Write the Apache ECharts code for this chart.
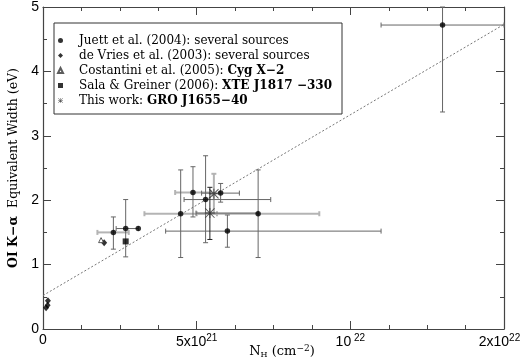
<!DOCTYPE html>
<html>
<head>
<meta charset="utf-8">
<script src="https://cdn.jsdelivr.net/npm/echarts@6/dist/echarts.min.js"></script>
<style>
  html, body { margin: 0; padding: 0; background: #fff; }
  #chart { width: 522px; height: 361px; }
</style>
</head>
<body>
<div id="chart"></div>
<script>
// N_H in units of 1e21 cm^-2 as drawn on the axis, EW in eV
const juettX = [2.29, 2.69, 3.10, 4.48, 4.88, 5.29, 5.78, 6.00, 7.00, 13.0];
const juettY = [1.50, 1.56, 1.56, 1.79, 2.12, 2.01, 2.11, 1.52, 1.79, 4.72];
const deVriesX = [0.16, 0.10, 0.15, 1.99];
const deVriesY = [0.44, 0.33, 0.37, 1.34];
const costantiniX = [1.89];
const costantiniY = [1.38];
const salaX = [2.69];
const salaY = [1.36];
const thisWorkX = [5.43, 5.56];
const thisWorkY = [1.80, 2.10];

// horizontal error bars: [y, xLow, xHigh]
const lightXErr = [[1.50, 1.77, 2.79], [1.79, 3.30, 5.66], [1.79, 5.0, 8.99], [2.12, 4.30, 5.46]];
const darkXErr = [[1.56, 2.38, 3.10], [1.80, 4.98, 7.0], [2.11, 5.16, 6.39], [2.01, 4.59, 7.41], [1.52, 3.99, 11.0], [4.72, 11.0, 15.0]];
// vertical error bars: [x, yLow, yHigh]
const lightYErr = [[5.56, 1.79, 2.41]];
const darkYErr = [[2.29, 1.24, 1.74], [2.69, 1.12, 2.01], [4.48, 1.11, 2.47], [4.88, 1.74, 2.52], [5.29, 1.34, 2.69],
  [5.78, 1.97, 2.26], [6.00, 1.27, 1.77], [7.00, 1.11, 2.47], [13.0, 3.37, 5.0]];
const blackYErr = [[5.43, 1.39, 2.20]];

// dashed fit line
const fitX = [0, 15];
const fitY = [0.52, 4.73];

const xTickText = { 0: "0", 5: "5x10{s|21}", 10: "10{s| 22}", 15: "2x10{e|22}" };

const names = [
  "Juett et al. (2004): several sources",
  "de Vries et al. (2003): several sources",
  "Costantini et al. (2005): Cyg X\u22122",
  "Sala & Greiner (2006): XTE J1817 \u2212330",
  "This work: GRO J1655\u221240",
];
const legendText = {
  [names[0]]: names[0],
  [names[1]]: names[1],
  [names[2]]: "Costantini et al. (2005): {b|Cyg X\u22122}",
  [names[3]]: "Sala & Greiner (2006): {b|XTE J1817 \u2212330}",
  [names[4]]: "This work: {b|GRO J1655\u221240}",
};

const zip = (xs, ys) => xs.map((x, i) => [x, ys[i]]);

const starPath =
  "path://M9 0H11V20H9Z M0 9H20V11H0Z M0 1.4L1.4 0L20 18.6L18.6 20Z M18.6 0L20 1.4L1.4 20L0 18.6Z";

function hErr(color, width) {
  return function (params, api) {
    const y = api.value(0);
    const a = api.coord([api.value(1), y]);
    const b = api.coord([api.value(2), y]);
    const c = 2.5;
    const style = { stroke: color, lineWidth: width };
    return {
      type: "group",
      children: [
        { type: "line", shape: { x1: a[0], y1: a[1], x2: b[0], y2: b[1] }, style },
        { type: "line", shape: { x1: a[0], y1: a[1] - c, x2: a[0], y2: a[1] + c }, style },
        { type: "line", shape: { x1: b[0], y1: b[1] - c, x2: b[0], y2: b[1] + c }, style },
      ],
    };
  };
}
function vErr(color, width) {
  return function (params, api) {
    const x = api.value(0);
    const a = api.coord([x, api.value(1)]);
    const b = api.coord([x, api.value(2)]);
    const c = 2.5;
    const style = { stroke: color, lineWidth: width };
    return {
      type: "group",
      children: [
        { type: "line", shape: { x1: a[0], y1: a[1], x2: b[0], y2: b[1] }, style },
        { type: "line", shape: { x1: a[0] - c, y1: a[1], x2: a[0] + c, y2: a[1] }, style },
        { type: "line", shape: { x1: b[0] - c, y1: b[1], x2: b[0] + c, y2: b[1] }, style },
      ],
    };
  };
}
const errSeries = (data, isH, color, width) => ({
  type: "custom",
  silent: true,
  z: 1,
  renderItem: isH ? hErr(color, width) : vErr(color, width),
  encode: isH ? { x: [1, 2], y: 0 } : { x: 0, y: [1, 2] },
  data,
});

const axisColor = "#444";
const tickCommon = {
  axisLine: { show: true, onZero: false, lineStyle: { color: axisColor, width: 1.2 } },
  axisTick: { show: true, inside: true, length: 8, lineStyle: { color: axisColor } },
  splitLine: { show: false },
  minorSplitLine: { show: false },
};
const serif = "DejaVu Serif";
const sans = "Liberation Sans";

const option = {
  animation: false,
  backgroundColor: "#fff",
  grid: { left: 43, right: 18, top: 7, bottom: 32, outerBoundsMode: "none" },
  legend: {
    orient: "vertical",
    left: 54,
    top: 23,
    padding: [10, 10, 6, 3],
    itemWidth: 5,
    itemHeight: 5,
    itemGap: 0,
    borderColor: "#333",
    borderWidth: 1,
    backgroundColor: "#fff",
    data: names,
    formatter: (n) => legendText[n],
    textStyle: {
      fontFamily: serif,
      fontSize: 12,
      color: "#000",
      lineHeight: 15,
      padding: [0, 0, 0, 11],
      rich: { b: { fontFamily: serif, fontSize: 12, fontWeight: "bold", color: "#000", lineHeight: 15 } },
    },
  },
  xAxis: [
    {
      type: "value",
      min: 0,
      max: 15,
      interval: 5,
      ...tickCommon,
      minorTick: { show: true, splitNumber: 4, length: 4, lineStyle: { color: axisColor } },
      axisLabel: {
        margin: 4,
        fontFamily: sans,
        fontSize: 14,
        color: "#000",
        formatter: (v) => xTickText[v],
        rich: {
          s: { fontFamily: sans, fontSize: 10, color: "#000", padding: [0, 0, 9, 0] },
          e: { fontFamily: sans, fontSize: 10, color: "#000", padding: [0, 9, 9, 0] },
        },
      },
      name: "N{sub|H} (cm{sup|\u22122})",
      nameLocation: "middle",
      nameGap: 15,
      nameMoveOverlap: false,
      nameTextStyle: {
        fontFamily: serif,
        fontSize: 13,
        color: "#000",
        padding: [0, 0, 0, 17],
        rich: {
          sub: { fontFamily: serif, fontSize: 8, color: "#000", padding: [6, 0, 0, 0] },
          sup: { fontFamily: serif, fontSize: 9, color: "#000", padding: [0, 0, 7, 0] },
        },
      },
    },
    {
      type: "value",
      position: "top",
      min: 0,
      max: 15,
      interval: 5,
      ...tickCommon,
      minorTick: { show: true, splitNumber: 4, length: 4, lineStyle: { color: axisColor } },
      axisLabel: { show: false },
    },
  ],
  yAxis: [
    {
      type: "value",
      min: 0,
      max: 5,
      interval: 1,
      ...tickCommon,
      minorTick: { show: true, splitNumber: 2, length: 4, lineStyle: { color: axisColor } },
      axisLabel: { margin: 4, fontFamily: sans, fontSize: 14, color: "#000" },
      name: "{b|OI K\u2212\u03b1}  Equivalent Width (eV)",
      nameLocation: "middle",
      nameRotate: 90,
      nameGap: 23,
      nameMoveOverlap: false,
      nameTextStyle: {
        fontFamily: serif,
        fontSize: 12.5,
        color: "#000",
        rich: { b: { fontFamily: serif, fontSize: 12.5, fontWeight: "bold", color: "#000" } },
      },
    },
    {
      type: "value",
      position: "right",
      min: 0,
      max: 5,
      interval: 1,
      ...tickCommon,
      minorTick: { show: true, splitNumber: 2, length: 4, lineStyle: { color: axisColor } },
      axisLabel: { show: false },
    },
  ],
  series: [
    {
      type: "line",
      silent: true,
      z: 0,
      symbol: "none",
      lineStyle: { color: "#777", width: 1, type: [2, 2] },
      data: zip(fitX, fitY),
    },
    errSeries(lightXErr, true, "#b4b4b4", 2),
    errSeries(lightYErr, false, "#b4b4b4", 2),
    errSeries(darkXErr, true, "#666", 1),
    errSeries(darkYErr, false, "#666", 1),
    errSeries(blackYErr, false, "#222", 1),
    {
      name: names[0],
      type: "scatter",
      z: 3,
      symbol: "circle",
      symbolSize: 5.5,
      itemStyle: { color: "#000" },
      data: zip(juettX, juettY),
    },
    {
      name: names[1],
      type: "scatter",
      z: 3,
      symbol: "diamond",
      symbolSize: [6, 7],
      itemStyle: { color: "#000" },
      data: zip(deVriesX, deVriesY),
    },
    {
      name: names[2],
      type: "scatter",
      z: 3,
      symbol: "triangle",
      symbolSize: 5,
      itemStyle: { color: "#fff", borderColor: "#333", borderWidth: 1 },
      data: zip(costantiniX, costantiniY),
    },
    {
      name: names[3],
      type: "scatter",
      z: 3,
      symbol: "rect",
      symbolSize: 6,
      itemStyle: { color: "#000" },
      data: zip(salaX, salaY),
    },
    {
      name: names[4],
      type: "scatter",
      z: 3,
      symbol: starPath,
      symbolSize: 10,
      itemStyle: { color: "#333" },
      data: zip(thisWorkX, thisWorkY),
    },
  ],
};

const chart = echarts.init(document.getElementById("chart"), null, { renderer: "canvas" });
chart.setOption(option);
</script>
</body>
</html>
